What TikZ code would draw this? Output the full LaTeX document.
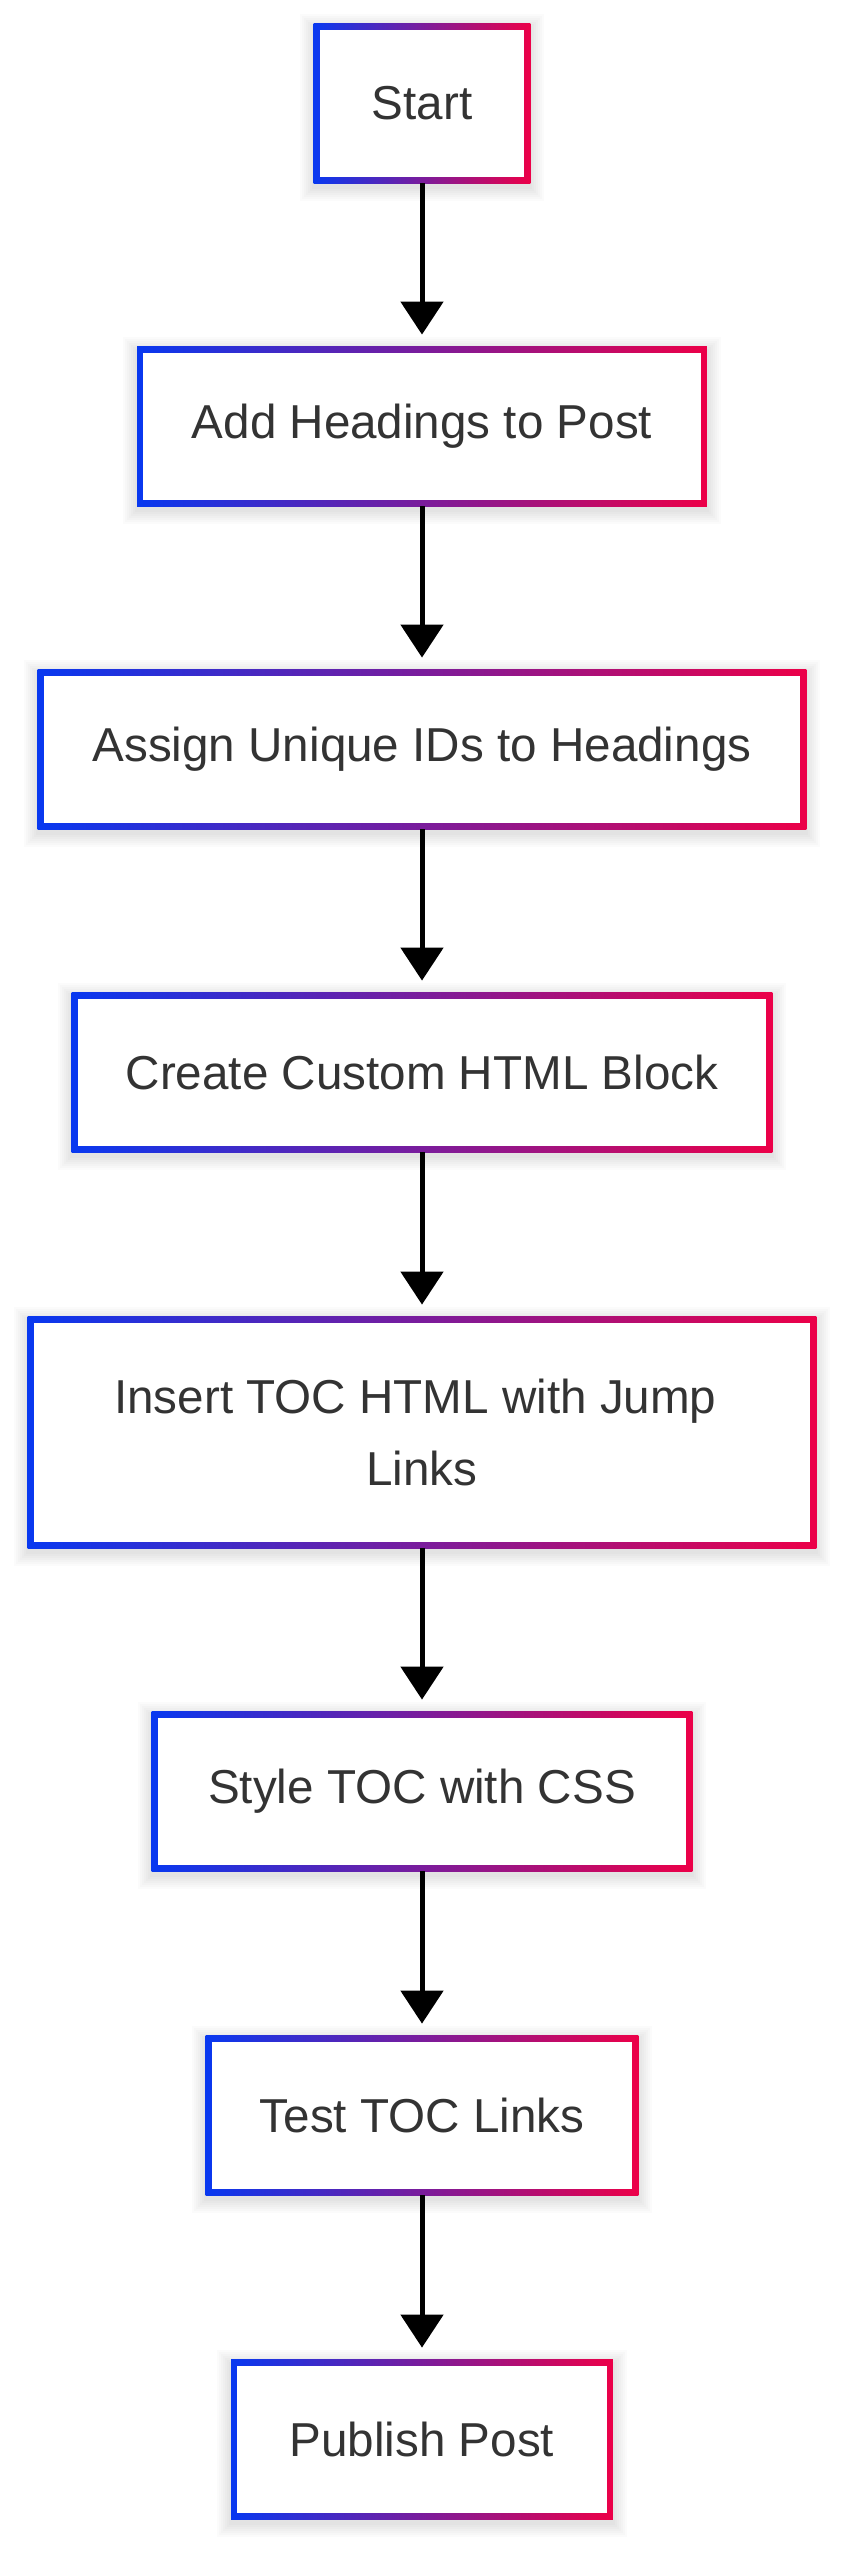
\documentclass[tikz,border=0pt]{standalone}
\usepackage{fontspec}
\setmainfont{Liberation Sans}
\usetikzlibrary{arrows.meta,backgrounds}
\definecolor{gblue}{RGB}{8,56,240}
\definecolor{gred}{RGB}{236,0,72}
\definecolor{txt}{RGB}{51,51,51}
\tikzset{
  stepbox/.style={rectangle, inner sep=0pt, text=txt, align=center,
    font=\fontsize{23.8pt}{36pt}\selectfont, minimum height=79.5pt},
  flow/.style={line width=2.5pt, draw=black, -{Triangle[width=21pt,length=16.5pt]}, shorten >=6pt},
}
\newcommand{\gbox}[1]{%
  \begin{scope}[on background layer]
    \foreach \k in {1,...,7}{%
      \fill[black, opacity=0.016] ([shift={({-\k*1pt},{\k*1pt-2pt})}]#1.north west) rectangle ([shift={({\k*1pt},{-\k*1pt-2pt})}]#1.south east);
    }
    \shade[left color=gblue, right color=gred] (#1.north west) rectangle (#1.south east);
    \fill[white] ([shift={(3pt,-3pt)}]#1.north west) rectangle ([shift={(-3pt,3pt)}]#1.south east);
  \end{scope}}
\begin{document}
\begin{tikzpicture}[x=0.5pt,y=-0.5pt]
  \useasboundingbox (0,0) rectangle (850,2560);
  \begin{scope}[on background layer]
    \fill[white] (0,0) rectangle (850,2560);
  \end{scope}
  \node[stepbox, minimum width=108pt] (start) at (422,103.5) {Start};
  \node[stepbox, minimum width=284.5pt] (add) at (422,426.5) {Add Headings to Post};
  \node[stepbox, minimum width=384pt] (assign) at (422,749.5) {Assign Unique IDs to Headings};
  \node[stepbox, minimum width=350pt] (create) at (422,1072.5) {Create Custom HTML Block};
  \node[stepbox, minimum width=394pt, minimum height=115.5pt] (insert) at (422,1432.5) {Insert TOC HTML with Jump\hspace*{0.278em}\\Links};
  \node[stepbox, minimum width=270pt] (style) at (422,1791.5) {Style TOC with CSS};
  \node[stepbox, minimum width=216pt] (test) at (422,2115.5) {Test TOC Links};
  \node[stepbox, minimum width=190.5pt] (publish) at (422,2439.5) {Publish Post};
  \foreach \n in {start,add,assign,create,insert,style,test,publish}{\gbox{\n}}
  \draw[flow] (start) -- (add);
  \draw[flow] (add) -- (assign);
  \draw[flow] (assign) -- (create);
  \draw[flow] (create) -- (insert);
  \draw[flow] (insert) -- (style);
  \draw[flow] (style) -- (test);
  \draw[flow] (test) -- (publish);
\end{tikzpicture}
\end{document}
